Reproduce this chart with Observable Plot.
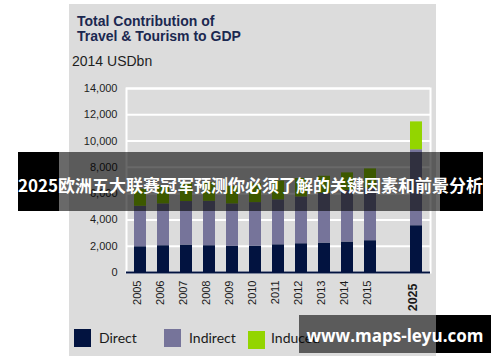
<!DOCTYPE html>
<html><head><meta charset="utf-8">
<script src="https://cdn.jsdelivr.net/npm/d3@7"></script>
<script src="https://cdn.jsdelivr.net/npm/@observablehq/plot@0.6"></script>
<style>
body{margin:0;background:#fff;}
#wrap{position:relative;width:500px;height:362px;overflow:hidden;font-family:"Liberation Sans",Arial,sans-serif;}
#panel{position:absolute;left:69px;top:4px;width:367px;height:352px;background:#dcdcdc;}
#chart{position:absolute;left:0;top:0;}
.title{position:absolute;left:77px;top:13.6px;font-weight:bold;font-size:14px;line-height:15px;color:#1b2850;white-space:nowrap;}
.sub{position:absolute;left:72px;top:53.2px;font-size:14px;line-height:16px;color:#1e1e1e;white-space:nowrap;}
.sw{position:absolute;width:17px;height:18px;}
.lt{position:absolute;font-family:Lato,"Open Sans",sans-serif;font-size:14px;line-height:16px;color:#1a1a1a;white-space:nowrap;}
.blk{position:absolute;background:#000;}
.semi{position:absolute;background:rgba(0,0,0,0.59);}
.btext{position:absolute;display:flex;align-items:center;justify-content:center;color:#fff;font-weight:bold;white-space:nowrap;}
</style></head>
<body>
<div id="wrap">
  <div id="panel"></div>
  <div class="title">Total Contribution of<br>Travel &amp; Tourism to GDP</div>
  <div class="sub">2014 USDbn</div>
  <div id="chart"></div>
  <div id="legend"></div>
  <!-- banner overlay -->
  <div class="blk" style="left:18px;top:152px;width:41px;height:59px;"></div>
  <div class="semi" style="left:59px;top:152px;width:381px;height:59px;"></div>
  <div class="blk" style="left:440px;top:152px;width:43px;height:59px;"></div>
  <div class="btext" style="left:18px;top:152px;width:465px;height:59px;padding-top:5px;box-sizing:border-box;font-family:'Noto Sans CJK SC',sans-serif;font-size:17px;">2025欧洲五大联赛冠军预测你必须了解的关键因素和前景分析</div>
  <!-- watermark -->
  <div class="semi" style="left:299px;top:315px;width:137px;height:38px;"></div>
  <div class="blk" style="left:436px;top:315px;width:55px;height:38px;"></div>
  <div class="btext" style="left:299px;top:315px;width:192px;height:38px;padding-top:2px;box-sizing:border-box;font-family:'Open Sans',sans-serif;font-size:17px;">www.maps-leyu.com</div>
</div>
<script>
const years = ["2005","2006","2007","2008","2009","2010","2011","2012","2013","2014","2015","2025"];
const direct   = [1960, 2040, 2090, 2040, 1985, 2010, 2110, 2190, 2240, 2320, 2420, 3560];
const indirect = [3080, 3180, 3310, 3380, 3235, 3310, 3420, 3560, 3780, 3930, 3980, 5780];
const induced  = [1300, 1380, 1400, 1420, 1330, 1430, 1420, 1400, 1300, 1330, 1480, 2120];
const seriesNames = ["Direct", "Indirect", "Induced"];
const seriesColors = ["#021340", "#76749a", "#93d500"];
const yTicks = [0, 2000, 4000, 6000, 8000, 10000, 12000, 14000];
const xDomain = [...years.slice(0, 11), " ", "2025"];

const seriesValues = [direct, indirect, induced];
const table = [];
seriesNames.forEach((s, i) => {
  years.forEach((y, j) => table.push({year: y, series: s, value: seriesValues[i][j]}));
});

const chart = Plot.plot({
  width: 500, height: 362,
  marginLeft: 126, marginRight: 70, marginTop: 88, marginBottom: 90,
  style: {background: "transparent", fontFamily: "'Liberation Sans', Arial, sans-serif", fontSize: "11px", color: "#1e1e1e"},
  x: {domain: xDomain, paddingInner: 0.47, paddingOuter: 0.25, axis: null},
  y: {domain: [0, 14000], ticks: yTicks, tickFormat: d3.format(","), tickSize: 0, tickPadding: 9, label: null},
  color: {domain: seriesNames, range: seriesColors},
  marks: [
    Plot.ruleY(yTicks, {stroke: "white", strokeWidth: 2}),
    Plot.frame({stroke: "white", strokeWidth: 2}),
    Plot.barY(table, {x: "year", y: "value", fill: "series"}),
    Plot.ruleY([0], {stroke: "#021340", strokeWidth: 2}),
    Plot.text(years.slice(0, 11), {x: d => d, frameAnchor: "bottom", dy: 8, rotate: -90, textAnchor: "end", fontSize: 11, fill: "#1a1a1a"}),
    Plot.text(years.slice(11), {x: d => d, frameAnchor: "bottom", dy: 11, rotate: -90, textAnchor: "end", fontSize: 12.5, fontWeight: "bold", fill: "#1a1a1a"})
  ]
});
document.getElementById("chart").appendChild(chart);

// legend
const legend = document.getElementById("legend");
const swX = [74, 164, 248];
const txX = [99, 189, 271];
seriesNames.forEach((s, i) => {
  const sw = document.createElement("div");
  sw.className = "sw";
  sw.style.left = swX[i] + "px";
  sw.style.top = (i === 2 ? 331 : 329) + "px";
  sw.style.background = seriesColors[i];
  legend.appendChild(sw);
  const t = document.createElement("div");
  t.className = "lt";
  t.style.left = txX[i] + "px";
  t.style.top = "330px";
  t.textContent = s;
  legend.appendChild(t);
});
// watermark must stay above legend
const wrap = document.getElementById("wrap");
[...wrap.querySelectorAll(".blk,.semi,.btext")].forEach(e => wrap.appendChild(e));
</script>
</body></html>
